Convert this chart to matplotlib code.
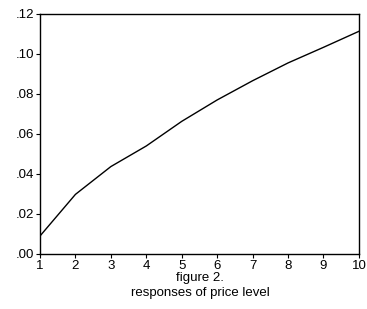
import matplotlib
matplotlib.use("Agg")
import matplotlib.pyplot as plt
from matplotlib.ticker import FuncFormatter

periods = [1, 2, 3, 4, 5, 6, 7, 8, 9, 10]
response = [0.009, 0.0298, 0.0437, 0.054, 0.0663, 0.077, 0.0866, 0.0955, 0.1033, 0.1113]
yticks = [0.00, 0.02, 0.04, 0.06, 0.08, 0.10, 0.12]

plt.rcParams['font.family'] = ['Liberation Sans', 'DejaVu Sans']

fig = plt.figure(figsize=(3.67, 3.09), dpi=100)
ax = fig.add_axes([0.109, 0.178, 0.869, 0.777])
ax.plot(periods, response, color='black', linewidth=1.0)
ax.set_xlim(1, 10)
ax.set_ylim(0, 0.12)
ax.set_xticks(periods)
ax.set_yticks(yticks)
ax.yaxis.set_major_formatter(FuncFormatter(lambda v, p: ('%.2f' % v).lstrip('0')))
ax.tick_params(axis='both', labelsize=9.5, length=3, width=0.8, pad=1, direction='out')
for s in ax.spines.values():
    s.set_linewidth(1.0)
fig.text(0.545, 1 - 278 / 309, 'figure 2.', ha='center', va='center', fontsize=9.5)
fig.text(0.545, 1 - 293 / 309, 'responses of price level', ha='center', va='center', fontsize=9.5)
fig.savefig('out.png', dpi=100)
